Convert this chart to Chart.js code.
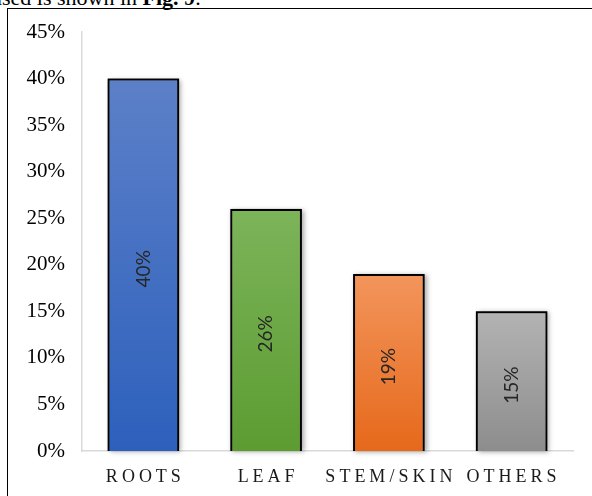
<!DOCTYPE html>
<html>
<head>
<meta charset="utf-8">
<script src="https://cdn.jsdelivr.net/npm/chart.js@4/dist/chart.umd.min.js"></script>
<style>
  html, body { margin: 0; padding: 0; background: #fff; overflow: hidden; }
  body { width: 592px; height: 496px; position: relative; }
  #caption {
    position: absolute; left: -9px; top: -12px; white-space: nowrap;
    font: 22px/20px "Liberation Serif", "DejaVu Serif", serif; color: #000;
  }
  #frame {
    position: absolute; left: 7px; top: 8px; width: 600px; height: 500px;
    border-left: 1px solid #000; border-top: 1px solid #000;
  }
</style>
</head>
<body>
<div id="caption">used is shown in <b>Fig. 9</b>.</div>
<div id="frame"></div>
<canvas id="partsChart" width="592" height="496" style="position:absolute;left:0;top:0"></canvas>
<script>
// data
const categories = ["ROOTS", "LEAF", "STEM/SKIN", "OTHERS"];
const shares = [40, 26, 19, 15];
const yMax = 45;
const yStep = 5;

// bar gradient colours (top -> bottom)
const barTop = ["#5c80c8", "#7cb45a", "#f3955c", "#b3b3b3"];
const barBottom = ["#2d60bc", "#5c9c31", "#e6691b", "#8d8d8d"];

const serif = '"Liberation Serif", "Times New Roman", serif';

function barGradient(context) {
  const chart = context.chart;
  const i = context.dataIndex;
  if (!chart.chartArea || context.type !== "data") return barTop[i];
  const y = chart.scales.y;
  const top = y.getPixelForValue(shares[i]);
  const base = y.getPixelForValue(0);
  const g = chart.ctx.createLinearGradient(0, top, 0, base);
  g.addColorStop(0, barTop[i]);
  g.addColorStop(1, barBottom[i]);
  return g;
}

// soft shadow behind each bar
const barShadow = {
  id: "barShadow",
  beforeDatasetDraw(chart, args) {
    const ctx = chart.ctx;
    ctx.save();
    ctx.shadowColor = "rgba(0,0,0,0.35)";
    ctx.shadowBlur = 5;
    ctx.shadowOffsetX = 2;
    ctx.shadowOffsetY = 1;
    ctx.fillStyle = "#555";
    args.meta.data.forEach((bar) => {
      const p = bar.getProps(["x", "y", "base", "width"], true);
      ctx.fillRect(p.x - p.width / 2, p.y, p.width, p.base - p.y);
    });
    ctx.restore();
  },
};

// rotated value label in the middle of the bar
const barValues = {
  id: "barValues",
  afterDatasetsDraw(chart) {
    const ctx = chart.ctx;
    const meta = chart.getDatasetMeta(0);
    ctx.save();
    ctx.font = '19px Lato, "Liberation Sans", sans-serif';
    ctx.fillStyle = "#262626";
    ctx.textAlign = "center";
    ctx.textBaseline = "middle";
    meta.data.forEach((bar, i) => {
      const p = bar.getProps(["x", "y", "base"], true);
      ctx.save();
      ctx.translate(p.x, (p.y + p.base) / 2 + 4);
      ctx.rotate(-Math.PI / 2);
      ctx.fillText(shares[i] + "%", 0, 0);
      ctx.restore();
    });
    ctx.restore();
  },
};

// spaced-out category labels
const spacedLabels = {
  id: "spacedLabels",
  beforeDraw(chart) {
    const xs = chart.scales.x;
    if (xs._spaced) return;
    const orig = xs.drawLabels;
    xs.drawLabels = function (area) {
      const ctx = this.ctx;
      ctx.save();
      ctx.letterSpacing = "4px";
      ctx.translate(2, 0);
      orig.call(this, area);
      ctx.restore();
    };
    xs._spaced = true;
  },
};

new Chart(document.getElementById("partsChart"), {
  type: "bar",
  data: {
    labels: categories,
    datasets: [
      {
        data: shares,
        backgroundColor: barGradient,
        borderColor: "#000",
        borderWidth: 2,
        categoryPercentage: 1,
        barPercentage: 0.583,
      },
    ],
  },
  options: {
    responsive: false,
    animation: false,
    layout: { padding: { left: 0, right: 19, top: 32, bottom: 0 } },
    plugins: {
      legend: { display: false },
      tooltip: { enabled: false },
      title: { display: false },
    },
    scales: {
      x: {
        grid: { display: false, drawTicks: false },
        border: { display: true, color: "#d9d9d9", width: 1.5 },
        ticks: {
          color: "#1a1a1a",
          font: { family: serif, size: 18 },
          padding: 15,
          maxRotation: 0,
          autoSkip: false,
        },
        afterFit(scale) {
          scale.height = 45;
        },
      },
      y: {
        min: 0,
        max: yMax,
        grid: { display: false, drawTicks: false },
        border: { display: true, color: "#d9d9d9", width: 1.5 },
        ticks: {
          stepSize: yStep,
          color: "#000",
          font: { family: serif, size: 21 },
          padding: 17,
          callback: (v) => v + "%",
        },
        afterFit(scale) {
          scale.width = 82;
        },
      },
    },
  },
  plugins: [barShadow, barValues, spacedLabels],
});
</script>
</body>
</html>
